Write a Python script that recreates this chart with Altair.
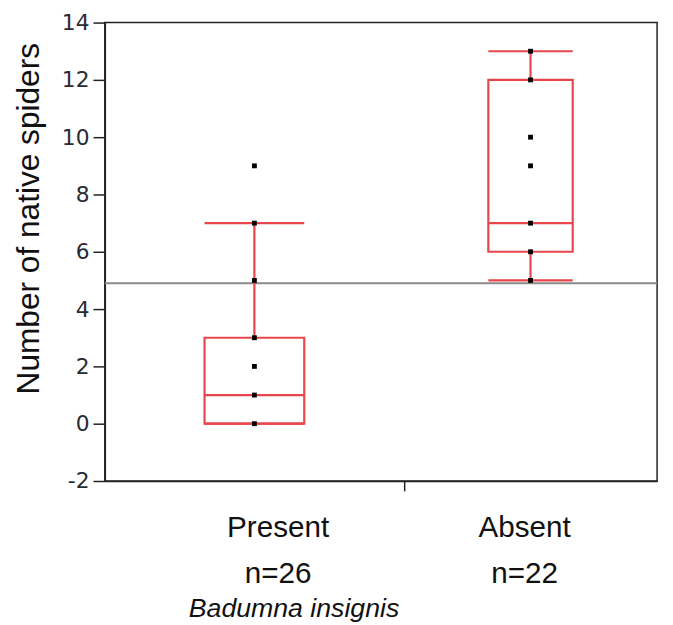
import altair as alt
import pandas as pd

# ---- data ----
groups = ["Present", "Absent"]
n_obs = [26, 22]
q1 = [0, 6]
median = [1, 7]
q3 = [3, 12]
whisker_lo = [0, 5]
whisker_hi = [7, 13]
points_present = [0, 1, 2, 3, 5, 7, 9]
points_absent = [5, 6, 7, 9, 10, 12, 13]
grand_mean = 4.9
y_ticks = [-2, 0, 2, 4, 6, 8, 10, 12, 14]

RED = "#e8464c"
W, H = 559, 464

# band positions proportional to sample size (JMP style)
starts = [0, n_obs[0]]
total = sum(n_obs)
rows = []
for g, n, s, a, m, b, lo, hi in zip(groups, n_obs, starts, q1, median, q3, whisker_lo, whisker_hi):
    c = s + n / 2
    hw = n / 6
    rows.append(dict(group=g, n=n, center=c, left=c - hw, right=c + hw,
                     q1=a, median=m, q3=b, lo=lo, hi=hi))
box = pd.DataFrame(rows)

pts = pd.DataFrame(
    [dict(group="Present", value=v) for v in points_present]
    + [dict(group="Absent", value=v) for v in points_absent]
)
pts = pts.merge(box[["group", "center"]], on="group")

xscale = alt.Scale(domain=[0, total], nice=False)
yscale = alt.Scale(domain=[y_ticks[0], y_ticks[-1]], nice=False)

x_axis = alt.Axis(values=[n_obs[0]], labels=False, tickSize=10, grid=False,
                  domainColor="#222", tickColor="#222", domainWidth=1.5, tickWidth=1.5,
                  title="Badumna insignis", titleFont="Liberation Sans", titleFontSize=27,
                  titleFontStyle="italic", titleFontWeight="normal", titleColor="#111",
                  titleX=191, titleY=137, titleAlign="center", titleBaseline="alphabetic")
y_axis = alt.Axis(values=y_ticks, tickSize=12, grid=False, labelPadding=4,
                  labelExpr="'' + datum.value",
                  labelFont="DejaVu Sans", labelFontSize=22, labelColor="#2a2a35",
                  domainColor="#222", tickColor="#222", domainWidth=1.5, tickWidth=1.5,
                  title="Number of native spiders", titleFont="Liberation Sans",
                  titleFontSize=32, titleFontWeight="normal", titleColor="#111",
                  titleX=-67, titleY=198, titleAngle=270, titleAlign="center",
                  titleBaseline="alphabetic")


def X(f):
    return alt.X(f, scale=xscale, axis=x_axis)


def Y(f):
    return alt.Y(f, scale=yscale, axis=y_axis)


base = alt.Chart(box)

boxes = base.mark_rect(fill="white", fillOpacity=0, stroke=RED, strokeWidth=2.2).encode(
    x=X("left:Q"), x2="right:Q", y=Y("q1:Q"), y2="q3:Q",
)
med = base.mark_rule(color=RED, strokeWidth=2.2).encode(
    x=X("left:Q"), x2="right:Q", y=Y("median:Q"),
)
wlo = base.mark_rule(color=RED, strokeWidth=2.2).encode(
    x=X("center:Q"), y=Y("lo:Q"), y2="q1:Q",
)
whi = base.mark_rule(color=RED, strokeWidth=2.2).encode(
    x=X("center:Q"), y=Y("q3:Q"), y2="hi:Q",
)
cap_lo = base.mark_rule(color=RED, strokeWidth=2.2).encode(
    x=X("left:Q"), x2="right:Q", y=Y("lo:Q"),
)
cap_hi = base.mark_rule(color=RED, strokeWidth=2.2).encode(
    x=X("left:Q"), x2="right:Q", y=Y("hi:Q"),
)
mean_line = alt.Chart(pd.DataFrame({"m": [grand_mean]})).mark_rule(
    color="#8a8a8a", strokeWidth=2).encode(
    x=alt.value(0), x2=alt.value(W), y=Y("m:Q"),
)
dots = alt.Chart(pts).mark_point(shape="square", filled=True, color="black",
                                 size=24, opacity=1).encode(
    x=X("center:Q"), y=Y("value:Q"),
)

label_dx = {"Present": 24, "Absent": -6}
labels = []
for g in groups:
    sub = base.transform_filter(alt.datum.group == g).transform_calculate(
        nlab="'n=' + datum.n")
    labels.append(sub.mark_text(font="Liberation Sans", fontSize=30, color="#111",
                                baseline="alphabetic", dx=label_dx[g]).encode(
        x=X("center:Q"), y=alt.value(521), text="group:N"))
    labels.append(sub.mark_text(font="Liberation Sans", fontSize=30, color="#111",
                                baseline="alphabetic", dx=label_dx[g]).encode(
        x=X("center:Q"), y=alt.value(567), text="nlab:N"))

chart = alt.layer(boxes, mean_line, med, wlo, whi, cap_lo, cap_hi, dots, *labels).properties(
    width=W, height=H,
    autosize=alt.AutoSizeParams(type="none"),
    padding={"left": 98, "top": 11, "right": 8, "bottom": 142},
    background="white",
).configure_view(stroke="#222", strokeWidth=1.5)

chart.save("out.html", embed_options={"renderer": "svg", "actions": False})
